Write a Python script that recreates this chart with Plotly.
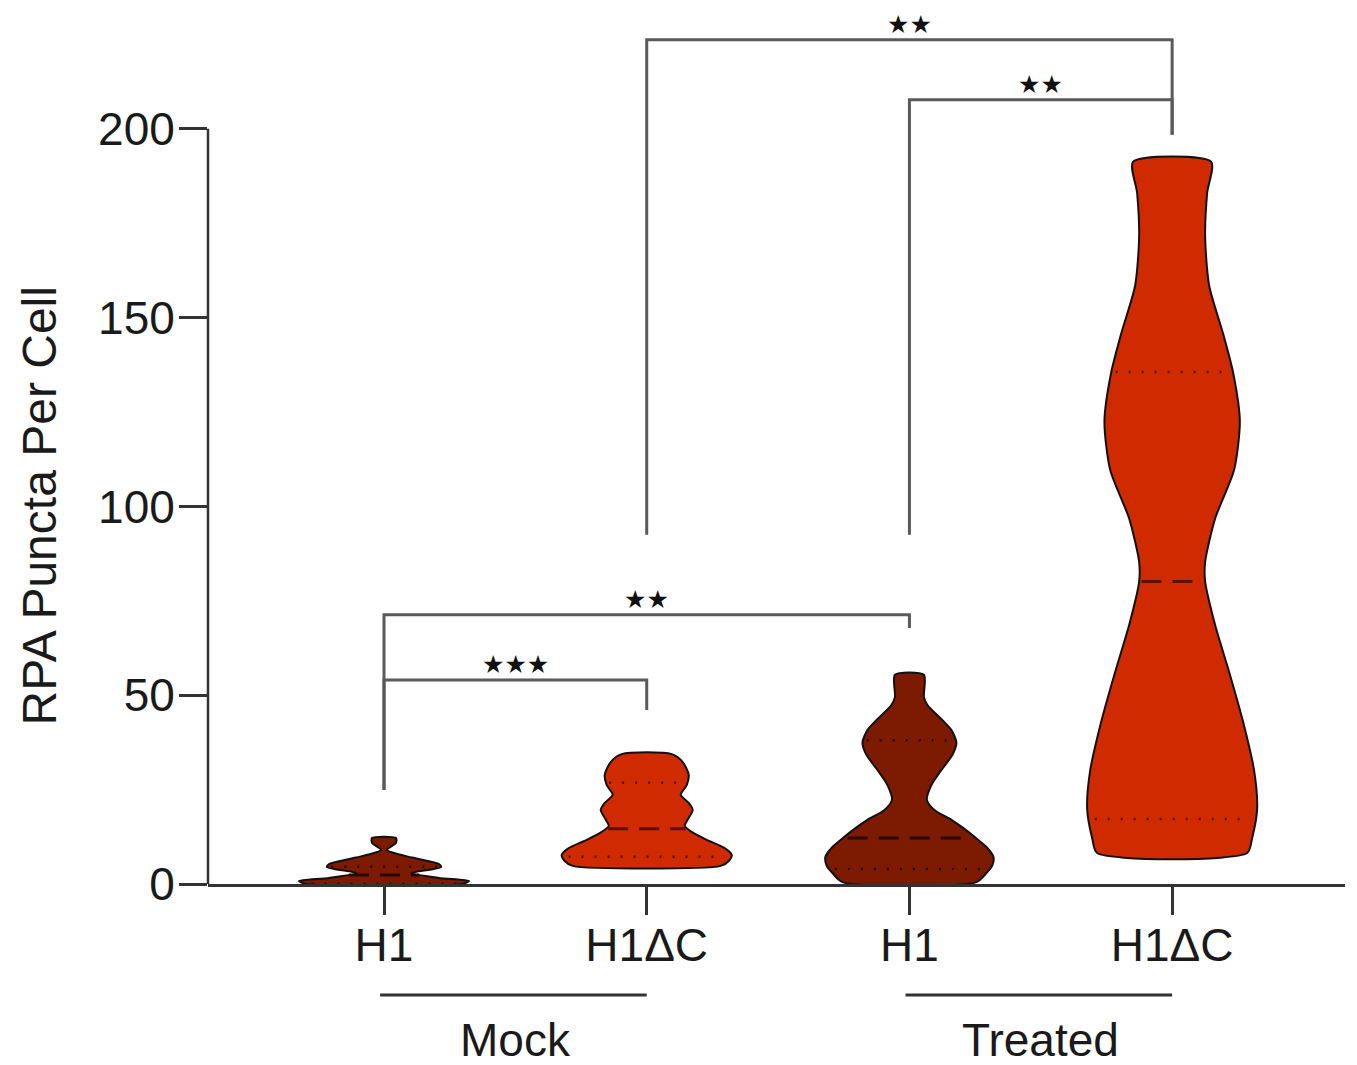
import numpy as np
import plotly.graph_objects as go

# ---------------- data ----------------
categories = ["H1", "H1ΔC", "H1", "H1ΔC"]
group_names = ["Mock", "Treated"]
group_members = [(0, 1), (2, 3)]
y_ticks = [0, 50, 100, 150, 200]

# violin outlines: value levels and relative half-widths (density)
mock_h1_y = [0.0, 0.8, 1.6, 2.9, 4.5, 5.3, 7.0, 9.0, 10.9, 12.2]
mock_h1_w = [78, 85, 55, 27, 57, 55, 28, 3, 12, 12]

mock_h1dc_y = [4.8, 6.1, 7.7, 9.5, 11.7, 13.8, 15.4, 17.5, 19.6, 21.5, 23.6, 26.2, 28.9, 32.3, 34.4]
mock_h1dc_w = [74, 82, 85, 78, 60, 45, 38, 42, 46, 42, 34, 40, 42, 36, 25]

treated_h1_y = [0.5, 2.9, 5.0, 7.2, 9.8, 12.5, 14.8, 17.0, 19.6, 22.3, 26.2, 30.2, 34.2, 37.4, 40.8, 43.4, 47.4, 49.5, 55.4]
treated_h1_w = [67, 77, 83, 84, 77, 65, 54, 42, 25, 17.5, 22, 32, 43, 47, 42, 33, 18, 14.5, 14.5]

treated_h1dc_y = [8.2, 12.2, 19.9, 30.0, 42.9, 55.7, 68.6, 80.1, 85.3, 96.8, 109.7, 122.5, 135.4, 145.7, 158.5, 171.4, 183.0, 191.3]
treated_h1dc_w = [75, 80, 85, 82, 71, 57.5, 43, 33, 33, 43, 62, 67.7, 61, 51, 37, 33, 35, 39]

# quartiles (Q1, median, Q3)
mock_h1_q = [0.0, 2.4, 4.6]
mock_h1dc_q = [7.2, 14.6, 26.8]
treated_h1_q = [4.0, 12.2, 38.1]
treated_h1dc_q = [17.2, 80.1, 135.6]

# significance comparisons: (left idx, right idx, bar height, left foot, right foot, label)
comparisons = [
    (0, 1, 54.0, 24.9, 46.1, "★★★"),
    (0, 2, 71.3, 24.9, 67.8, "★★"),
    (1, 3, 223.6, 92.5, 198.4, "★★"),
    (2, 3, 207.7, 92.5, 198.4, "★★"),
]

violins = [
    (mock_h1_y, mock_h1_w, mock_h1_q),
    (mock_h1dc_y, mock_h1dc_w, mock_h1dc_q),
    (treated_h1_y, treated_h1_w, treated_h1_q),
    (treated_h1dc_y, treated_h1dc_w, treated_h1dc_q),
]

# ---------------- style ----------------
DARK = "#7c1a02"
BRIGHT = "#d02a00"
fills = [DARK, BRIGHT, DARK, BRIGHT]
qcolors = ["#2a0600", "#5a1200", "#2a0600", "#5a1200"]
W_SCALE = 1 / 262.7
FONT = "Liberation Sans, Arial, Helvetica, sans-serif"
AXC = "#333333"
BRC = "#5a5a5a"

# page has an 8px body margin; size the figure to fit the window
W, H = 1349, 1057
ML, MR, MT, MB = 200, 12, 0, 181
plot_h = H - MT - MB


def py_to_paper(py):
    # py given in window pixels (figure offset by 8px)
    return (H - MB - (py - 8)) / plot_h


fig = go.Figure()

for i, (ys, ws, qs) in enumerate(violins):
    ys = np.array(ys, dtype=float)
    ws = np.array(ws, dtype=float) * W_SCALE
    xs = np.concatenate([i + ws, (i - ws)[::-1], [i + ws[0]]])
    yy = np.concatenate([ys, ys[::-1], [ys[0]]])
    fig.add_trace(go.Scatter(
        x=xs, y=yy, mode="lines", fill="toself", fillcolor=fills[i],
        line=dict(color="#111111", width=2, shape="spline", smoothing=0.7),
        hoverinfo="skip", showlegend=False))
    for k, q in enumerate(qs):
        hw = np.interp(q, ys, ws) * 0.93
        fig.add_trace(go.Scatter(
            x=[i - hw, i + hw], y=[q, q], mode="lines",
            line=dict(color=qcolors[i], width=3 if k == 1 else 2.5,
                      dash="20px,11px" if k == 1 else "2px,11px"),
            hoverinfo="skip", showlegend=False))

# significance brackets
for a, b, h, fa, fb, lab in comparisons:
    fig.add_trace(go.Scatter(
        x=[a, a, b, b], y=[fa, h, h, fb], mode="lines",
        line=dict(color=BRC, width=3), hoverinfo="skip", showlegend=False))
    fig.add_annotation(x=(a + b) / 2, y=h + 4.1, xref="x", yref="y", text=lab,
                       showarrow=False, yanchor="middle", borderpad=0,
                       font=dict(family="DejaVu Sans", size=25, color="#111111"))

# y axis line (0..200 only)
fig.add_shape(type="line", xref="paper", yref="y", x0=0, x1=0, y0=0, y1=max(y_ticks),
              line=dict(color=AXC, width=2.5))

# group lines and labels
for name, (a, b) in zip(group_names, group_members):
    fig.add_shape(type="line", xref="x", yref="paper", x0=a - 0.015, x1=b,
                  y0=py_to_paper(995), y1=py_to_paper(995),
                  line=dict(color=AXC, width=3))
    fig.add_annotation(x=(a + b) / 2, xref="x", y=py_to_paper(1040), yref="paper",
                       text=name, showarrow=False, yanchor="middle",
                       font=dict(family=FONT, size=46, color="#1a1a1a"))

# y title
fig.add_annotation(x=0, xref="paper", xshift=-169, y=100, yref="y",
                   text="RPA Puncta Per Cell", textangle=-90, showarrow=False,
                   xanchor="center", yanchor="middle",
                   font=dict(family=FONT, size=48, color="#1a1a1a"))

fig.update_layout(
    width=W, height=H,
    margin=dict(l=ML, r=MR, t=MT, b=MB),
    plot_bgcolor="white", paper_bgcolor="white",
    showlegend=False,
    xaxis=dict(range=[-0.67, 3.658], tickmode="array", tickvals=list(range(len(categories))),
               ticktext=categories, ticks="outside", ticklen=28, tickwidth=2.5,
               tickcolor=AXC, showline=True, linecolor=AXC, linewidth=2.5,
               showgrid=False, zeroline=False, ticklabelstandoff=-9,
               tickfont=dict(family=FONT, size=46, color="#1a1a1a")),
    yaxis=dict(range=[0, 232], tickmode="array", tickvals=y_ticks,
               ticks="outside", ticklen=28, tickwidth=2.5, tickcolor=AXC,
               showline=False, showgrid=False, zeroline=False, ticklabelstandoff=-5,
               tickfont=dict(family=FONT, size=46, color="#1a1a1a")),
)

fig.write_html("out.html")
